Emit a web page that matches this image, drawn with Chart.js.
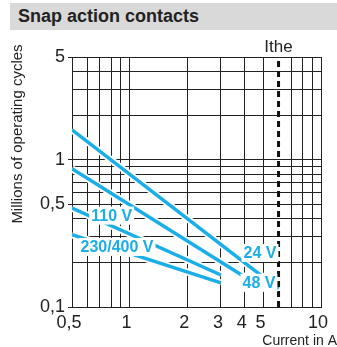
<!DOCTYPE html>
<html>
<head>
<meta charset="utf-8">
<script src="https://cdn.jsdelivr.net/npm/chart.js@4/dist/chart.umd.min.js"></script>
<style>
  body { margin: 0; background: #fff; }
  #wrap { position: relative; width: 337px; height: 347px; }
  #head {
    position: absolute; left: 10px; top: 3px; width: 319px; height: 27px;
    padding-left: 8px; background: #d9d9d9; color: #222;
    font: bold 18px "Liberation Sans", Arial, sans-serif; line-height: 27px;
  }
  canvas { position: absolute; left: 0; top: 0; }
</style>
</head>
<body>
<div id="wrap">
  <canvas id="lifeChart" width="337" height="347"></canvas>
  <div id="head">Snap action contacts</div>
</div>
<script>
// Electrical durability curves, one straight log-log segment per voltage
const voltages = ["24 V", "48 V", "110 V", "230/400 V"];
const startCurrent = [0.5, 0.5, 0.5, 0.5];
const endCurrent = [6, 4, 3, 3];
const startCycles = [1.6, 0.87, 0.47, 0.31];
const endCycles = [0.133, 0.16, 0.165, 0.146];

// where each voltage tag sits (current, cycles)
const tagCurrent = [4.8, 4.74, 0.806, 0.859];
const tagCycles = [0.233, 0.146, 0.418, 0.256];

// thermal current limit
const itheCurrent = 6;

const xTicks = [0.5, 0.6, 0.7, 0.8, 0.9, 1, 2, 3, 4, 5, 7, 8, 9, 10];
const xTickText = ["0,5", "", "", "", "", "1", "2", "3", "4", "5", "", "", "", "10"];
const yTicks = [0.1, 0.2, 0.3, 0.4, 0.5, 0.6, 0.7, 0.8, 0.9, 1, 2, 3, 4, 5];
const yTickText = ["0,1", "", "", "", "0,5", "", "", "", "", "1", "", "", "", "5"];

const CYAN = "#1aaee8";
const INK = "#222";
const FONT = "'Liberation Sans', Arial, sans-serif";

const curves = voltages.map((v, i) => [
    { x: startCurrent[i], y: startCycles[i] },
    { x: endCurrent[i], y: endCycles[i] }
]);

const datasets = [];
// white halo under each curve
curves.forEach(function (pts) {
    datasets.push({ data: pts, borderColor: "#fff", borderWidth: 7, pointRadius: 0, order: 3 });
});
curves.forEach(function (pts, i) {
    datasets.push({ label: voltages[i], data: pts, borderColor: CYAN, borderWidth: 3.5,
        pointRadius: 0, borderCapStyle: "butt", order: 2 });
});
datasets.push({
    label: "Ithe",
    data: [{ x: itheCurrent, y: 0.1 }, { x: itheCurrent, y: 5 }],
    borderColor: "#111", borderWidth: 3, borderDash: [6, 4], pointRadius: 0, order: 1
});

// voltage tags on white boxes, axis captions and the Ithe marker text
const annotations = {
    id: "annotations",
    afterDatasetsDraw(chart) {
        const c = chart.ctx;
        const xs = chart.scales.x, ys = chart.scales.y;
        c.save();
        c.font = "bold 16px " + FONT;
        c.textAlign = "center";
        c.textBaseline = "middle";
        voltages.forEach(function (v, i) {
            const px = xs.getPixelForValue(tagCurrent[i]);
            const py = ys.getPixelForValue(tagCycles[i]);
            const w = c.measureText(v).width;
            c.fillStyle = "#fff";
            c.fillRect(px - w / 2 - 2, py - 9, w + 4, 18);
            c.fillStyle = CYAN;
            c.fillText(v, px, py + 1);
        });

        c.fillStyle = INK;
        c.font = "17px " + FONT;
        c.textBaseline = "alphabetic";
        c.fillText("Ithe", xs.getPixelForValue(itheCurrent), 52);

        c.font = "14px " + FONT;
        c.textAlign = "right";
        c.fillText("Current in A", 337, 345);

        c.font = "15px " + FONT;
        c.textAlign = "center";
        c.textBaseline = "middle";
        c.translate(18, 134);
        c.rotate(-Math.PI / 2);
        c.fillText("Millions of operating cycles", 0, 0);
        c.restore();
    }
};

new Chart(document.getElementById("lifeChart").getContext("2d"), {
    type: "line",
    data: { datasets: datasets },
    plugins: [annotations],
    options: {
        responsive: false,
        animation: false,
        layout: { padding: { top: 57, right: 16, left: 0, bottom: 0 } },
        plugins: { legend: { display: false }, tooltip: { enabled: false } },
        scales: {
            x: {
                type: "logarithmic", min: 0.5, max: 10,
                afterBuildTicks: function (s) { s.ticks = xTicks.map(v => ({ value: v })); },
                afterFit: function (s) { s.height = 40; },
                ticks: {
                    autoSkip: false, maxRotation: 0, labelOffset: -3, padding: 5,
                    color: INK, font: { family: FONT, size: 18 },
                    callback: (v, i) => xTickText[i]
                },
                grid: { color: INK, lineWidth: 1, drawTicks: false },
                border: { color: INK }
            },
            y: {
                type: "logarithmic", min: 0.1, max: 5,
                afterBuildTicks: function (s) { s.ticks = yTicks.map(v => ({ value: v })); },
                afterFit: function (s) { s.width = 72; },
                ticks: {
                    autoSkip: false, padding: 3,
                    color: INK, font: { family: FONT, size: 18 },
                    callback: (v, i) => yTickText[i]
                },
                grid: {
                    color: INK, lineWidth: 1, tickLength: 4,
                    tickColor: ctx => yTickText[ctx.index] ? INK : "rgba(0,0,0,0)"
                },
                border: { color: INK }
            }
        }
    }
});
</script>
</body>
</html>
